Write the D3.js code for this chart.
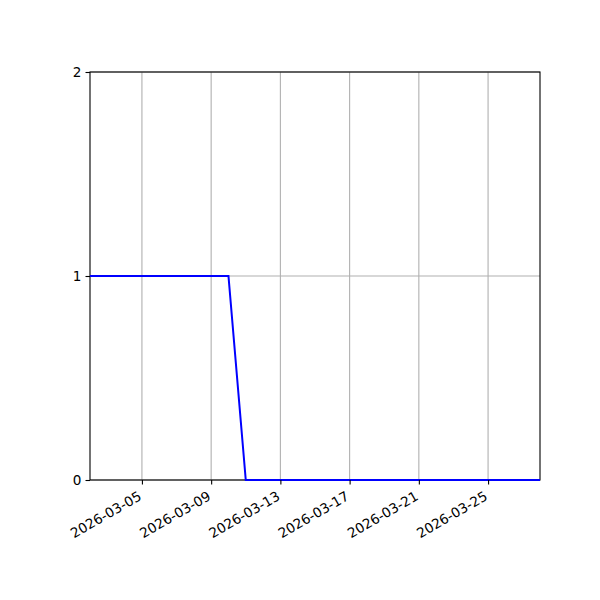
<html>
  <head>
    <script src="https://d3js.org/d3.v7.min.js"></script>
    <style>
      body{margin:0;background:#fff;}
      text{font-family:"DejaVu Sans",sans-serif;font-size:13.6px;fill:#000;}
    </style>
  </head>
  <body>
    <script>
      // daily values
      var dates=["2026-03-02","2026-03-03","2026-03-04","2026-03-05","2026-03-06","2026-03-07","2026-03-08",
                 "2026-03-09","2026-03-10","2026-03-11","2026-03-12","2026-03-13","2026-03-14","2026-03-15",
                 "2026-03-16","2026-03-17","2026-03-18","2026-03-19","2026-03-20","2026-03-21","2026-03-22",
                 "2026-03-23","2026-03-24","2026-03-25","2026-03-26","2026-03-27","2026-03-28"];
      var values=[1,1,1,1,1,1,1,1,1,0,0,0,0,0,0,0,0,0,0,0,0,0,0,0,0,0,0];
      var xTicks=["2026-03-05","2026-03-09","2026-03-13","2026-03-17","2026-03-21","2026-03-25"];
      var yTicks=[0,1,2];

      var parse=d3.utcParse("%Y-%m-%d");
      var mLeft=90,mRight=540,mTop=72,mBottom=480;

      var svg=d3.select('body').append('svg')
                .attr('width',600)
                .attr('height',600);

      var x=d3.scaleUtc()
              .domain([parse(dates[0]),parse(dates[dates.length-1])])
              .range([mLeft,mRight]);
      var y=d3.scaleLinear().domain([0,2]).range([mBottom,mTop]);

      // grid
      svg.append('g').selectAll('line').data(xTicks).enter().append('line')
         .attr('x1',function(d){return x(parse(d));})
         .attr('x2',function(d){return x(parse(d));})
         .attr('y1',mTop).attr('y2',mBottom)
         .attr('stroke','#b0b0b0').attr('stroke-width',1.1);
      svg.append('g').selectAll('line').data(yTicks).enter().append('line')
         .attr('x1',mLeft).attr('x2',mRight)
         .attr('y1',function(d){return y(d);})
         .attr('y2',function(d){return y(d);})
         .attr('stroke','#b0b0b0').attr('stroke-width',1.1);

      var line=d3.line()
                 .x(function(d,i){return x(parse(dates[i]));})
                 .y(function(d){return y(d);});

      // frame
      svg.append('rect')
         .attr('x',mLeft).attr('y',mTop)
         .attr('width',mRight-mLeft).attr('height',mBottom-mTop)
         .attr('fill','none').attr('stroke','#000').attr('stroke-width',1.1);

      // line on top of the spine
      svg.append('path').datum(values)
         .attr('d',line)
         .attr('fill','none')
         .attr('stroke','#0000ff')
         .attr('stroke-width',2);

      // x axis
      var xAxis=svg.append('g')
         .attr('transform','translate(0,'+mBottom+')')
         .call(d3.axisBottom(x)
                 .tickValues(xTicks.map(parse))
                 .tickFormat(d3.utcFormat("%Y-%m-%d"))
                 .tickSize(4.5)
                 .tickPadding(3.5));
      xAxis.select('.domain').remove();
      xAxis.selectAll('line').attr('stroke','#000').attr('stroke-width',1.1);
      xAxis.selectAll('text')
           .style('text-anchor','end')
           .attr('dy',null)
           .attr('y',0)
           .attr('transform','translate(0,19) rotate(-30)');
      xAxis.attr('font-family',null).attr('font-size',null);

      // y axis
      var yAxis=svg.append('g')
         .attr('transform','translate('+mLeft+',0)')
         .call(d3.axisLeft(y)
                 .tickValues(yTicks)
                 .tickFormat(d3.format("d"))
                 .tickSize(4.5)
                 .tickPadding(4));
      yAxis.select('.domain').remove();
      yAxis.selectAll('line').attr('stroke','#000').attr('stroke-width',1.1);
      yAxis.attr('font-family',null).attr('font-size',null);
    </script>
  </body>
</html>
